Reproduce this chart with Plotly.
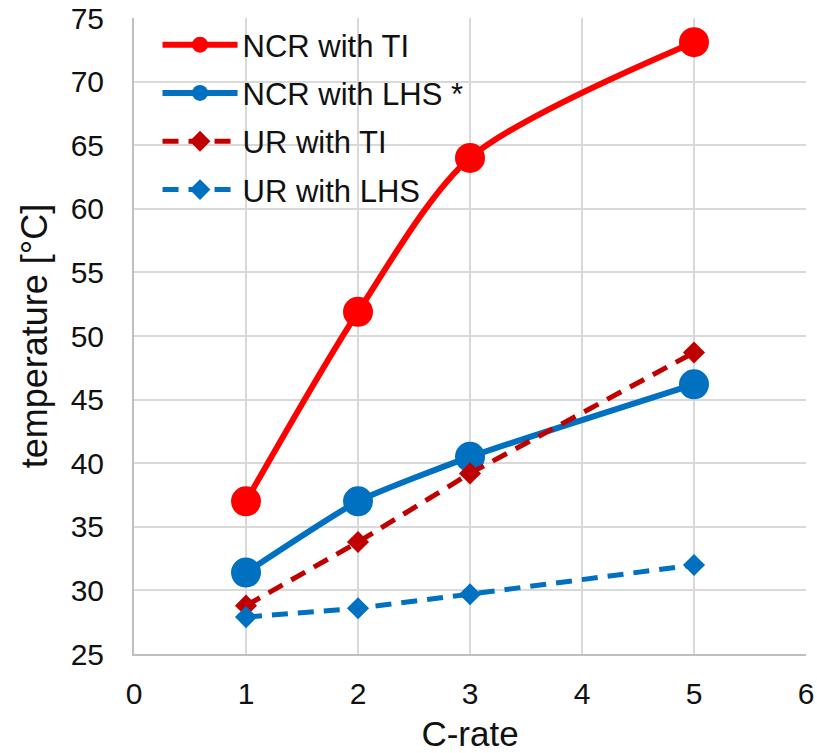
import plotly.graph_objects as go

c_rate = [1, 2, 3, 5]
ncr_ti = [37.0, 51.9, 64.0, 73.1]
ncr_lhs = [31.4, 37.0, 40.5, 46.2]
ur_ti = [28.8, 33.8, 39.2, 48.7]
ur_lhs = [27.9, 28.6, 29.7, 32.0]

series_names = ["NCR with TI", "NCR with LHS *", "UR with TI", "UR with LHS"]

font_family = "Liberation Sans, Arial, sans-serif"

fig = go.Figure()
fig.add_trace(go.Scatter(
    x=c_rate, y=ncr_ti, name=series_names[0], mode="lines+markers", legendgroup="a",
    line=dict(color="#FF0000", width=6, shape="spline", smoothing=0.8),
    marker=dict(symbol="circle", size=30, color="#FF0000")))
fig.add_trace(go.Scatter(
    x=c_rate, y=ncr_lhs, name=series_names[1], mode="lines+markers", legendgroup="b",
    line=dict(color="#0070C0", width=6, shape="spline", smoothing=0.5),
    marker=dict(symbol="circle", size=30, color="#0070C0")))
fig.add_trace(go.Scatter(
    x=c_rate, y=ur_ti, name=series_names[2], mode="lines+markers", legendgroup="c",
    line=dict(color="#C00000", width=5, dash="16px,10px"),
    marker=dict(symbol="diamond", size=17, color="#C00000")))
fig.add_trace(go.Scatter(
    x=c_rate, y=ur_lhs, name=series_names[3], mode="lines+markers", legendgroup="d",
    line=dict(color="#0070C0", width=5, dash="16px,10px"),
    marker=dict(symbol="diamond", size=17, color="#0070C0")))

fig.update_layout(
    width=817, height=753,
    margin=dict(l=134, r=11, t=18, b=99, autoexpand=False),
    paper_bgcolor="white", plot_bgcolor="white",
    font=dict(family=font_family, size=30, color="#111111"),
    showlegend=True,
    legend=dict(x=0.035, y=1.0, xanchor="left", yanchor="top",
                bgcolor="rgba(0,0,0,0)", font=dict(size=31, color="#111111"),
                tracegroupgap=5, itemwidth=75),
    xaxis=dict(range=[0, 6], dtick=1, tick0=0, showgrid=True, gridcolor="#D9D9D9", gridwidth=2,
               showline=True, linecolor="#BFBFBF", linewidth=2, zeroline=False, automargin=False,
               ticks="", tickfont=dict(size=30, color="#111111"), ticklabelstandoff=12,
               title=dict(text="C-rate", font=dict(size=35, color="#111111"), standoff=12)),
    yaxis=dict(range=[25, 75], dtick=5, tick0=25, showgrid=True, gridcolor="#D9D9D9", gridwidth=2,
               showline=True, linecolor="#BFBFBF", linewidth=2, zeroline=False, automargin=False,
               ticks="", tickfont=dict(size=30, color="#111111"), ticklabelstandoff=22,
               title=dict(text="temperature [°C]", font=dict(size=36, color="#111111"), standoff=12)),
)

fig.write_html("out.html")
